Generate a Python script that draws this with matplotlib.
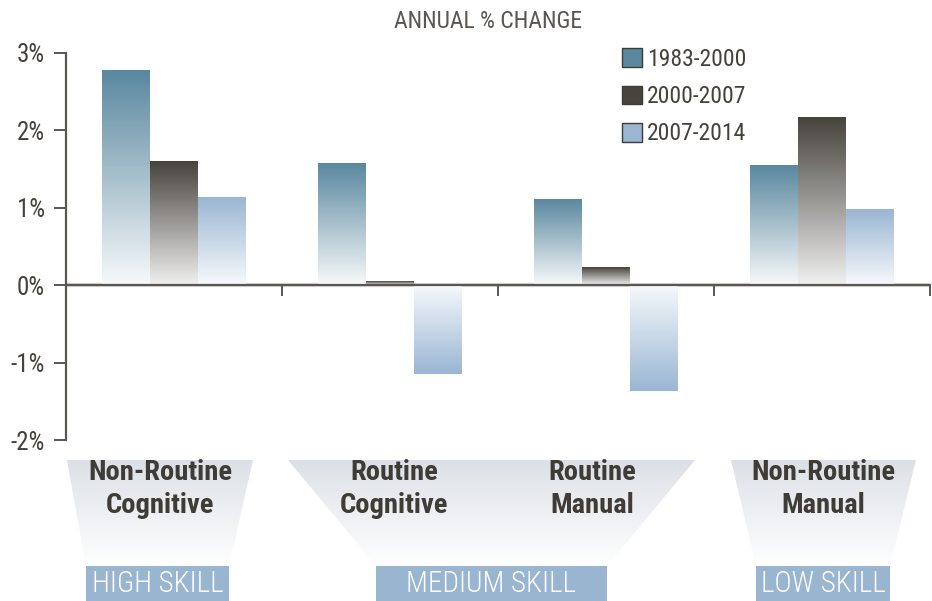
import numpy as np
import matplotlib
matplotlib.use("Agg")
import matplotlib.pyplot as plt
from matplotlib import font_manager
from matplotlib.patches import Patch, Polygon, Rectangle
from matplotlib.colors import to_rgb

# ---------------- data ----------------
categories = ["Non-Routine\nCognitive", "Routine\nCognitive", "Routine\nManual", "Non-Routine\nManual"]
series_names = ["1983-2000", "2000-2007", "2007-2014"]
v_1983_2000 = [2.77, 1.57, 1.11, 1.54]
v_2000_2007 = [1.60, 0.05, 0.22, 2.17]
v_2007_2014 = [1.13, -1.15, -1.37, 0.97]
skill_groups = ["HIGH SKILL", "MEDIUM SKILL", "LOW SKILL"]
y_ticks = [-2, -1, 0, 1, 2, 3]
y_tick_labels = ["-2%", "-1%", "0%", "1%", "2%", "3%"]
title = "ANNUAL % CHANGE"

# ---------------- fonts ----------------
avail = {f.name for f in font_manager.fontManager.ttflist}
def pick(*names):
    for n in names:
        if n in avail:
            return n
    return "DejaVu Sans"
FONT = pick("Liberation Sans Narrow", "Roboto Condensed", "Open Sans Condensed", "Noto Sans", "DejaVu Sans")
plt.rcParams["font.family"] = [FONT, "DejaVu Sans"]

W, H = 932, 601
fig = plt.figure(figsize=(W / 100, H / 100), dpi=100)

dark = "#45423d"
axis_col = "#5a5753"
top_cols = ["#5a889f", "#47433d", "#9ab6d2"]
low_cols = ["#f7f9fa", "#f0f0f0", "#f7f9fc"]

# overlay axes in pixel coordinates for decorations
ov = fig.add_axes([0, 0, 1, 1], zorder=0)
ov.set_xlim(0, W)
ov.set_ylim(H, 0)
ov.axis("off")

# main axes
ax = fig.add_axes([66 / W, 1 - 440 / H, (930 - 66) / W, (440 - 53) / H], zorder=2)
ax.patch.set_alpha(0)

x = np.arange(len(categories)) + 0.5
bw = 0.222
series = [v_1983_2000, v_2000_2007, v_2007_2014]

def grad_img(c_top, c_low, n=256, reverse=False):
    t = np.linspace(0, 1, n)
    a = np.array(to_rgb(c_low))
    b = np.array(to_rgb(c_top))
    cols = a[None, :] * (1 - t[:, None]) + b[None, :] * t[:, None]
    if reverse:
        cols = cols[::-1]
    return cols[:, None, :]

for i, vals in enumerate(series):
    bars = ax.bar(x + (i - 1) * bw, vals, width=bw, color="none", edgecolor="none", zorder=2)
    for b, v in zip(bars, vals):
        x0 = b.get_x()
        x1 = x0 + b.get_width()
        if v >= 0:
            img = grad_img(top_cols[i], low_cols[i])
            ax.imshow(img, extent=[x0, x1, 0, v], origin="lower", aspect="auto", zorder=2,
                      interpolation="bilinear")
        else:
            img = grad_img(top_cols[i], low_cols[i], reverse=True)
            ax.imshow(img, extent=[x0, x1, v, 0], origin="lower", aspect="auto", zorder=2,
                      interpolation="bilinear")

ax.set_xlim(0, 4)
ax.set_ylim(-2, 3)
ax.set_yticks(y_ticks)
ax.set_yticklabels(y_tick_labels, fontsize=18, color=dark)
ax.set_xticks([1, 2, 3, 4])
ax.set_xticklabels([])
for s in ["top", "right"]:
    ax.spines[s].set_visible(False)
ax.spines["left"].set_color(axis_col)
ax.spines["left"].set_linewidth(1.6)
ax.spines["bottom"].set_position(("data", 0))
ax.spines["bottom"].set_color(axis_col)
ax.spines["bottom"].set_linewidth(1.6)
ax.spines["bottom"].set_zorder(3)
ax.axhline(0, color="#dadada", lw=3, zorder=1.5)
ax.tick_params(axis="y", direction="out", length=9, width=1.4, color=axis_col, pad=6)
ax.tick_params(axis="x", direction="out", length=8, width=1.4, color=axis_col)

# legend
handles = [Patch(facecolor=c, edgecolor="#3d3b38", linewidth=1.0, label=n)
           for c, n in zip(top_cols, series_names)]
leg = ax.legend(handles=handles, loc="upper left", bbox_to_anchor=(622 / W, 1 - 48 / H),
                bbox_transform=fig.transFigure, frameon=False, fontsize=17,
                handlelength=0.85, handleheight=0.85, handletextpad=0.2, labelspacing=0.6,
                borderaxespad=0, borderpad=0)
for t in leg.get_texts():
    t.set_color(dark)

# title
ov.text(488, 22, title, ha="center", va="center", fontsize=17, color="#5a5753")

# funnels & skill boxes (pixel coords)
funnel_top = 460
funnel_bot = 566
box_bot = 601
funnels = [((67, 253), (86, 229)), ((288, 695), (376, 607)), ((731, 916), (756, 890))]
fimg = grad_img("#dce0e6", "#ffffff")
for (tl, tr), (bl, br) in funnels:
    poly = Polygon([(tl, funnel_top), (tr, funnel_top), (br, funnel_bot), (bl, funnel_bot)],
                   closed=True, facecolor="none", edgecolor="none")
    ov.add_patch(poly)
    im = ov.imshow(fimg, extent=[tl, tr, funnel_bot, funnel_top], aspect="auto",
                   origin="lower", interpolation="bilinear")
    im.set_clip_path(poly)
ov.set_xlim(0, W)
ov.set_ylim(H, 0)

for name, ((tl, tr), (bl, br)) in zip(skill_groups, funnels):
    ov.add_patch(Rectangle((bl, funnel_bot), br - bl, box_bot - funnel_bot, facecolor="#9ab5d0",
                           edgecolor="none"))
    ov.text((bl + br) / 2, (funnel_bot + box_bot) / 2 + 1, name, ha="center", va="center",
            fontsize=21, fontweight="light", color="white")

label_x = [160, 394, 592, 823]
for lx, cat in zip(label_x, categories):
    ov.text(lx, 489, cat, ha="center", va="center", fontsize=20.5, fontweight="bold",
            color="#3f3c37", linespacing=1.28)

fig.savefig("out.png", dpi=100)
